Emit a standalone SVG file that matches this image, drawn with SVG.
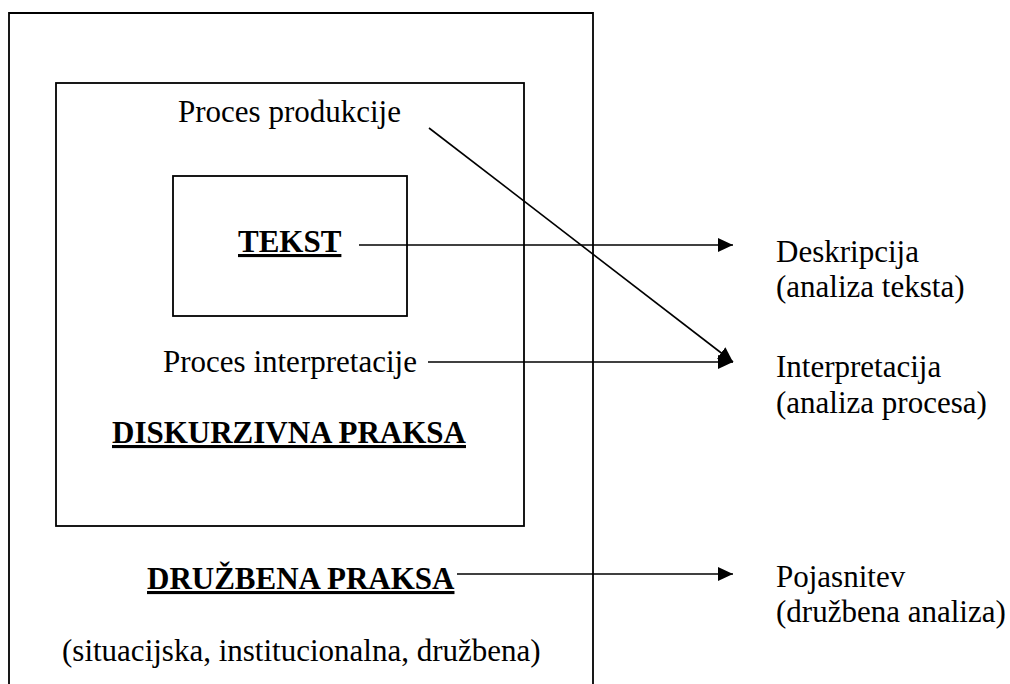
<svg xmlns="http://www.w3.org/2000/svg" width="1010" height="684" viewBox="0 0 1010 684">
<style>
.box{fill:none;stroke:#000;stroke-width:1.8}
.t{font-family:"Liberation Serif","Times New Roman",serif;font-size:31px;fill:#000}
.b{font-weight:bold;text-decoration:underline;text-decoration-thickness:3px}
.c{stroke:#000;stroke-width:1.6;fill:none}
</style>
<defs>
<marker id="ah" markerUnits="userSpaceOnUse" markerWidth="16" markerHeight="14" refX="15" refY="7" orient="auto">
<path d="M0,0 L15,7 L0,14 Z" fill="#000"/>
</marker>
</defs>
<rect width="1010" height="684" fill="#fff"/>
<g id="druzbena-praksa">
<path class="box" d="M9,690 V13 H593 V690"/>
<text class="t b" x="147" y="589">DRUŽBENA PRAKSA</text>
<text class="t" x="62" y="661">(situacijska, institucionalna, družbena)</text>
</g>
<g id="diskurzivna-praksa">
<rect class="box" x="56" y="83" width="468" height="443"/>
<text class="t" x="178" y="122">Proces produkcije</text>
<text class="t" x="163" y="372">Proces interpretacije</text>
<text class="t b" x="112" y="443">DISKURZIVNA PRAKSA</text>
</g>
<g id="tekst">
<rect class="box" x="173" y="176" width="234" height="140"/>
<text class="t b" x="238" y="252">TEKST</text>
</g>
<g id="deskripcija">
<text class="t" x="776" y="262">Deskripcija</text>
<text class="t" x="776" y="297">(analiza teksta)</text>
</g>
<g id="interpretacija">
<text class="t" x="776" y="377">Interpretacija</text>
<text class="t" x="776" y="413">(analiza procesa)</text>
</g>
<g id="pojasnitev">
<text class="t" x="776" y="587">Pojasnitev</text>
<text class="t" x="776" y="622">(družbena analiza)</text>
</g>
<g id="connectors">
<line class="c" x1="359" y1="245" x2="733" y2="245" marker-end="url(#ah)"/>
<line class="c" x1="428" y1="362" x2="733" y2="362" marker-end="url(#ah)"/>
<line class="c" x1="429" y1="128" x2="733" y2="362" marker-end="url(#ah)"/>
<line class="c" x1="457" y1="574" x2="733" y2="574" marker-end="url(#ah)"/>
</g>
</svg>
